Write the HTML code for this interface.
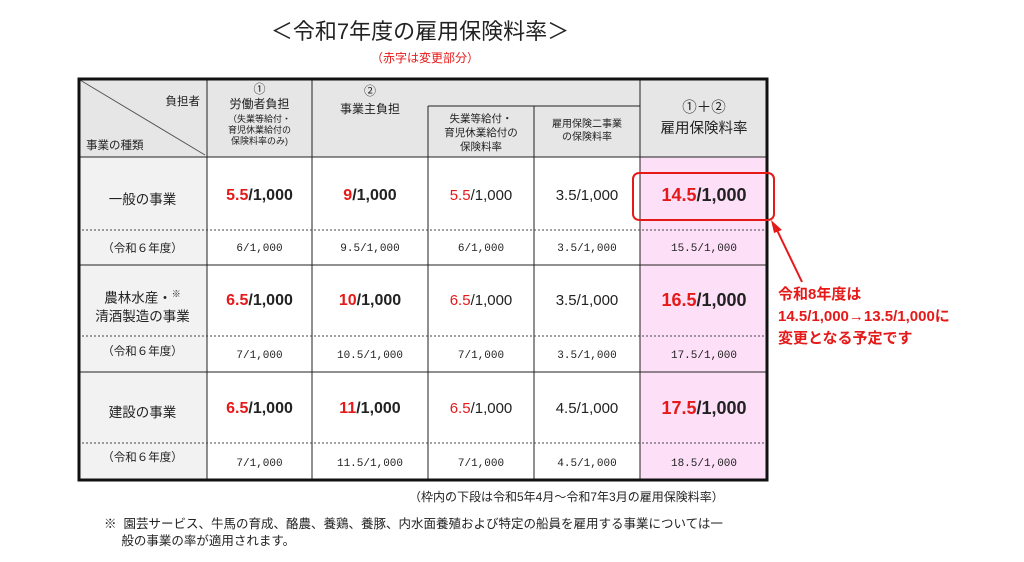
<!DOCTYPE html>
<html><head><meta charset="utf-8"><style>
body{margin:0;width:1024px;height:562px;background:#fff;position:relative;overflow:hidden;font-family:"Liberation Sans","Noto Sans CJK JP",sans-serif;color:#222}
.a{position:absolute}
.t{position:absolute;text-align:center;white-space:nowrap}
.r{color:#e61919}
</style></head><body>
<div class="t" style="left:250px;top:14px;width:340px;font-size:22px">＜令和7年度の雇用保険料率＞</div>
<div class="t" style="left:350px;top:49px;width:150px;font-size:12px;color:#e61919">（赤字は変更部分）</div>

<svg class="a" style="left:0;top:0" width="1024" height="562">
<rect x="78" y="78" width="690" height="79" fill="#e6e6e6"/>
<rect x="78" y="157" width="129" height="324" fill="#f2f2f2"/>
<rect x="640" y="157" width="128" height="324" fill="#fde0f8"/>
<g stroke="#222" stroke-width="1">
<line x1="78" y1="157" x2="768" y2="157"/>
<line x1="78" y1="265" x2="768" y2="265"/>
<line x1="78" y1="372" x2="768" y2="372"/>
<line x1="428" y1="106" x2="640" y2="106"/>
<line x1="207" y1="78" x2="207" y2="481"/>
<line x1="312" y1="78" x2="312" y2="481"/>
<line x1="428" y1="106" x2="428" y2="481"/>
<line x1="534" y1="106" x2="534" y2="481"/>
<line x1="640" y1="78" x2="640" y2="481"/>
<line x1="80" y1="80" x2="205" y2="155" stroke="#555"/>
</g>
<g stroke="#444" stroke-dasharray="2,2">
<line x1="78" y1="230" x2="768" y2="230"/>
<line x1="78" y1="336" x2="768" y2="336"/>
<line x1="78" y1="443" x2="768" y2="443"/>
</g>
<rect x="79" y="79" width="688" height="401" fill="none" stroke="#111" stroke-width="3"/>
<rect x="633" y="173" width="141" height="47" rx="6" fill="none" stroke="#e61919" stroke-width="2"/>
<line x1="776" y1="228" x2="802" y2="282" stroke="#e61919" stroke-width="2"/>
<polygon points="771,220 782,230 774,233" fill="#e61919"/>
</svg>

<div class="t" style="left:140px;top:93px;width:60px;font-size:11.5px;text-align:right">負担者</div>
<div class="t" style="left:86px;top:137px;font-size:11.5px">事業の種類</div>
<div class="t" style="left:207px;top:82px;width:105px;font-size:12px;line-height:15px">①<br>労働者負担</div>
<div class="t" style="left:207px;top:114px;width:105px;font-size:9px;line-height:11px">（失業等給付・<br>育児休業給付の<br>保険料率のみ)</div>
<div class="t" style="left:312px;top:82px;width:116px;font-size:12px;line-height:18px">②<br>事業主負担</div>
<div class="t" style="left:428px;top:112px;width:106px;font-size:10.5px;line-height:14px">失業等給付・<br>育児休業給付の<br>保険料率</div>
<div class="t" style="left:534px;top:118px;width:106px;font-size:10px;line-height:13px">雇用保険二事業<br>の保険料率</div>
<div class="t" style="left:640px;top:98px;width:128px;font-size:14.5px;line-height:21px">①＋②<br>雇用保険料率</div>

<div class="t" style="left:78px;top:188px;width:129px;font-size:13.5px">一般の事業</div>
<div class="t" style="left:78px;top:240px;width:129px;font-size:11.5px">（令和６年度）</div>
<div class="t" style="left:78px;top:285px;width:129px;font-size:13.5px;line-height:18px">農林水産・<sup style="font-size:9px">※</sup><br>清酒製造の事業</div>
<div class="t" style="left:78px;top:343px;width:129px;font-size:11.5px">（令和６年度）</div>
<div class="t" style="left:78px;top:401px;width:129px;font-size:13.5px">建設の事業</div>
<div class="t" style="left:78px;top:449px;width:129px;font-size:11.5px">（令和６年度）</div>

<div class="t" style="left:207px;top:187px;width:105px;font-size:16px;font-weight:bold"><span class="r">5.5</span>/1,000</div>
<div class="t" style="left:312px;top:187px;width:116px;font-size:16px;font-weight:bold"><span class="r">9</span>/1,000</div>
<div class="t" style="left:428px;top:187px;width:106px;font-size:15px"><span class="r">5.5</span>/1,000</div>
<div class="t" style="left:534px;top:187px;width:106px;font-size:15px">3.5/1,000</div>
<div class="t" style="left:640px;top:185px;width:128px;font-size:18px;font-weight:bold"><span class="r">14.5</span>/1,000</div>

<div class="t" style="left:207px;top:292px;width:105px;font-size:16px;font-weight:bold"><span class="r">6.5</span>/1,000</div>
<div class="t" style="left:312px;top:292px;width:116px;font-size:16px;font-weight:bold"><span class="r">10</span>/1,000</div>
<div class="t" style="left:428px;top:292px;width:106px;font-size:15px"><span class="r">6.5</span>/1,000</div>
<div class="t" style="left:534px;top:292px;width:106px;font-size:15px">3.5/1,000</div>
<div class="t" style="left:640px;top:290px;width:128px;font-size:18px;font-weight:bold"><span class="r">16.5</span>/1,000</div>

<div class="t" style="left:207px;top:400px;width:105px;font-size:16px;font-weight:bold"><span class="r">6.5</span>/1,000</div>
<div class="t" style="left:312px;top:400px;width:116px;font-size:16px;font-weight:bold"><span class="r">11</span>/1,000</div>
<div class="t" style="left:428px;top:400px;width:106px;font-size:15px"><span class="r">6.5</span>/1,000</div>
<div class="t" style="left:534px;top:400px;width:106px;font-size:15px">4.5/1,000</div>
<div class="t" style="left:640px;top:398px;width:128px;font-size:18px;font-weight:bold"><span class="r">17.5</span>/1,000</div>

<div style="font-family:'Liberation Mono','Noto Sans CJK JP',monospace;font-size:11px">
<div class="t" style="left:207px;top:243px;width:105px">6/1,000</div>
<div class="t" style="left:312px;top:243px;width:116px">9.5/1,000</div>
<div class="t" style="left:428px;top:243px;width:106px">6/1,000</div>
<div class="t" style="left:534px;top:243px;width:106px">3.5/1,000</div>
<div class="t" style="left:640px;top:243px;width:128px">15.5/1,000</div>
<div class="t" style="left:207px;top:350px;width:105px">7/1,000</div>
<div class="t" style="left:312px;top:350px;width:116px">10.5/1,000</div>
<div class="t" style="left:428px;top:350px;width:106px">7/1,000</div>
<div class="t" style="left:534px;top:350px;width:106px">3.5/1,000</div>
<div class="t" style="left:640px;top:350px;width:128px">17.5/1,000</div>
<div class="t" style="left:207px;top:458px;width:105px">7/1,000</div>
<div class="t" style="left:312px;top:458px;width:116px">11.5/1,000</div>
<div class="t" style="left:428px;top:458px;width:106px">7/1,000</div>
<div class="t" style="left:534px;top:458px;width:106px">4.5/1,000</div>
<div class="t" style="left:640px;top:458px;width:128px">18.5/1,000</div>
</div>

<div class="a" style="left:778px;top:284px;font-size:15px;font-weight:bold;color:#e61919;line-height:22px">令和8年度は<br>14.5/1,000→13.5/1,000に<br>変更となる予定です</div>

<div class="a" style="left:409px;top:488px;font-size:12px">（枠内の下段は令和5年4月～令和7年3月の雇用保険料率）</div>
<div class="a" style="left:104px;top:516px;font-size:12.5px;line-height:17px">※&nbsp; 園芸サービス、牛馬の育成、酪農、養鶏、養豚、内水面養殖および特定の船員を雇用する事業については一<br>&nbsp;&nbsp;&nbsp;&nbsp;&nbsp;般の事業の率が適用されます。</div>
</body></html>
